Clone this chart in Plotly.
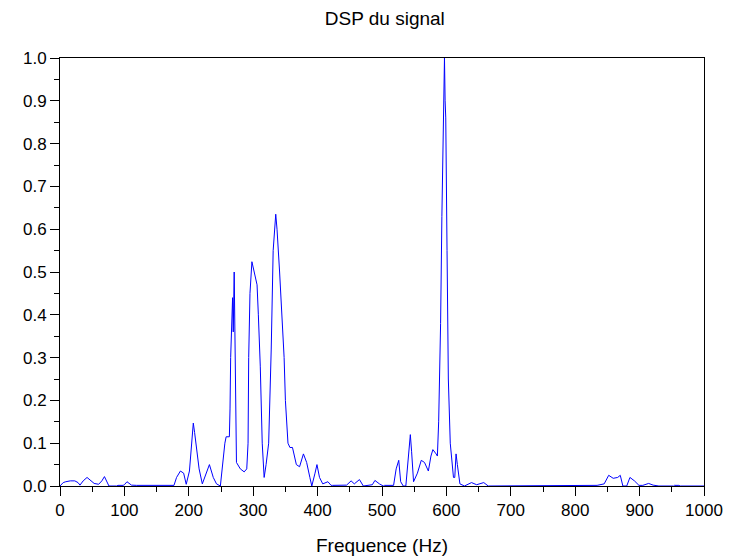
import plotly.graph_objects as go

freq_hz = [0, 5, 9, 16, 23, 28, 31, 36, 42, 48, 53, 60, 65, 69, 73, 76, 88, 90, 98, 100, 104, 108, 111, 119, 139, 141, 150, 161, 163, 166, 177, 181, 187, 192, 196, 201, 205, 207, 209, 213, 216, 221, 227, 232, 238, 243, 249,
           252, 256, 258, 263, 264, 265, 268, 269, 270.5, 272, 274, 280, 286, 290, 292, 293, 295, 298, 300, 302, 306, 308, 311, 314, 317,
           320, 324, 328, 331, 335, 337, 341, 345, 348, 350, 354, 357, 361, 367, 372, 378, 383, 388, 391, 396, 399, 403, 408,
           416, 421, 423, 441, 445, 452, 457, 465, 471, 485, 489, 496, 502, 504, 518, 522, 526, 529, 533, 537, 540, 544, 546, 549, 555,
           561, 566, 572, 576, 579, 584, 586, 588, 591, 593, 595, 596, 597, 598, 599, 601, 603, 606, 608, 611, 613, 615, 617, 621,
           628, 639, 647, 658, 665, 684, 685, 698, 700, 715, 716, 724, 726, 737, 738, 742, 747, 748, 755, 757, 778, 779, 784, 786, 801, 802, 823, 833, 834,
           845, 852, 859, 866, 870, 874, 880, 885, 892, 899, 905, 914, 921, 925, 930, 953, 954, 961, 963, 1000]
dsp = [0.0, 0.008, 0.01, 0.012, 0.012, 0.008, 0.002, 0.012, 0.02, 0.012, 0.006, 0.004, 0.012, 0.022, 0.01, 0.0, 0.0, 0.0015, 0.0015, 0.003, 0.01, 0.005, 0.002, 0.0015, 0.0015, 0.0, 0.0015, 0.0015, 0.0, 0.0015, 0.0015, 0.02, 0.035, 0.03, 0.004, 0.035, 0.12, 0.147, 0.125, 0.07, 0.04, 0.005, 0.03, 0.05, 0.02, 0.005, 0.0,
       0.05, 0.1, 0.115, 0.115, 0.18, 0.3, 0.44, 0.36, 0.5, 0.3, 0.055, 0.04, 0.033, 0.04, 0.1, 0.3, 0.45, 0.524, 0.51, 0.49, 0.47, 0.4, 0.28, 0.1, 0.02,
       0.05, 0.1, 0.32, 0.55, 0.635, 0.6, 0.5, 0.4, 0.3, 0.2, 0.1, 0.09, 0.09, 0.05, 0.045, 0.075, 0.055, 0.02, 0.0, 0.03, 0.05, 0.02, 0.005,
       0.01, 0.0015, 0.0015, 0.0015, 0.002, 0.012, 0.005, 0.015, 0.0, 0.003, 0.013, 0.005, 0.0, 0.0015, 0.0015, 0.04, 0.06, 0.01, 0.0, 0.0, 0.06, 0.12, 0.08, 0.01, 0.03,
       0.06, 0.055, 0.035, 0.07, 0.085, 0.075, 0.07, 0.15, 0.38, 0.63, 0.88, 0.87, 1.0, 0.9, 0.86, 0.55, 0.25, 0.1, 0.06, 0.02, 0.02, 0.075, 0.05, 0.005,
       0.0, 0.008, 0.003, 0.008, 0.0, 0.0, 0.0015, 0.0015, 0.0, 0.0, 0.0015, 0.0015, 0.0, 0.0, 0.0015, 0.0015, 0.0, 0.0015, 0.0015, 0.0, 0.0, 0.0015, 0.0015, 0.0, 0.0, 0.0015, 0.0015, 0.0, 0.0015,
       0.005, 0.025, 0.018, 0.02, 0.025, 0.0, 0.0, 0.02, 0.012, 0.0015, 0.0015, 0.006, 0.002, 0.0015, 0.0, 0.0, 0.0015, 0.0015, 0.0, 0.0]

x_ticks = list(range(0, 1001, 100))
y_ticks = [round(i * 0.1, 1) for i in range(11)]

fig = go.Figure()
fig.add_trace(go.Scatter(x=freq_hz, y=dsp, mode="lines",
                         line=dict(color="#0000ff", width=1), showlegend=False))

tick_font = dict(family="Liberation Sans, Arial, sans-serif", size=17, color="#000000")
title_font = dict(family="Liberation Sans, Arial, sans-serif", size=19, color="#000000")

fig.update_layout(
    width=740, height=559,
    margin=dict(l=60, r=36, t=58, b=73, autoexpand=False),
    paper_bgcolor="white", plot_bgcolor="white",
    font=tick_font,
    title=dict(text="DSP du signal", x=0.52, xanchor="center", y=1 - 18 / 559, yanchor="middle",
               font=title_font),
    xaxis=dict(range=[0, 1000], tickvals=x_ticks, ticktext=[str(v) for v in x_ticks],
               showgrid=False, zeroline=False, showline=True, linecolor="black", linewidth=1,
               mirror=True, ticks="outside", ticklen=9, tickcolor="black", automargin=False,
               minor=dict(dtick=50, ticks="outside", ticklen=5, tickcolor="black"),
               tickfont=tick_font),
    yaxis=dict(range=[0, 1.0], tickvals=y_ticks, ticktext=["%.1f" % v for v in y_ticks],
               showgrid=False, zeroline=False, showline=True, linecolor="black", linewidth=1,
               mirror=True, ticks="outside", ticklen=9, tickcolor="black", automargin=False,
               minor=dict(dtick=0.05, ticks="outside", ticklen=5, tickcolor="black"),
               tickfont=tick_font),
    annotations=[dict(text="Frequence (Hz)", xref="paper", yref="paper",
                      x=0.5, y=-(545 - 486) / 428, xanchor="center", yanchor="middle",
                      showarrow=False, font=title_font)],
)

fig.write_html("out.html", config={"displayModeBar": False},
               post_script="document.body.style.margin='0';document.body.style.overflow='hidden';")
